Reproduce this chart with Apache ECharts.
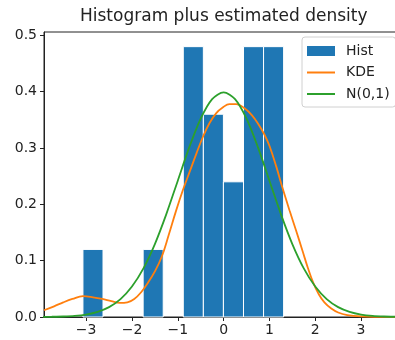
<!DOCTYPE html>
<html>
<head>
<meta charset="utf-8">
<script src="https://cdn.jsdelivr.net/npm/echarts@6/dist/echarts.min.js"></script>
<style>
html,body{margin:0;padding:0;overflow:hidden;background:#fff;}
#chart{width:400px;height:340px;}
</style>
</head>
<body>
<div id="chart"></div>
<script>
// ---- data ----
const titleText = 'Histogram plus estimated density';
const binEdges = [-3.07, -2.632, -2.194, -1.756, -1.318, -0.88, -0.442, -0.004, 0.434, 0.872, 1.31];
const histDensity = [0.12, 0, 0, 0.12, 0, 0.48, 0.36, 0.24, 0.48, 0.48];
const kdeX = [-3.92, -3.7, -3.5, -3.3, -3.07, -2.85, -2.65, -2.45, -2.27, -2.1, -1.95, -1.8, -1.65, -1.5, -1.35, -1.2, -1.04, -0.89, -0.74, -0.59, -0.45, -0.31, -0.16, -0.02, 0.13, 0.28, 0.45, 0.62, 0.77, 0.89, 1.0, 1.15, 1.29, 1.44, 1.58, 1.72, 1.84, 1.96, 2.08, 2.2, 2.35, 2.5, 2.7, 3.0, 3.4, 3.85];
const kdeY = [0.012, 0.019, 0.026, 0.032, 0.037, 0.035, 0.032, 0.028, 0.025, 0.026, 0.032, 0.044, 0.061, 0.081, 0.107, 0.145, 0.188, 0.225, 0.258, 0.291, 0.320, 0.344, 0.362, 0.372, 0.378, 0.378, 0.371, 0.358, 0.341, 0.324, 0.304, 0.267, 0.228, 0.189, 0.154, 0.118, 0.087, 0.060, 0.040, 0.026, 0.015, 0.008, 0.0035, 0.001, 0.0002, 0.0];
const normX = [-4, -3.75, -3.5, -3.25, -3, -2.75, -2.5, -2.25, -2, -1.75, -1.5, -1.25, -1, -0.75, -0.5, -0.25, 0, 0.25, 0.5, 0.75, 1, 1.25, 1.5, 1.75, 2, 2.25, 2.5, 2.75, 3, 3.25, 3.5, 3.75, 4];
const normY = [0.0001, 0.0004, 0.0009, 0.0020, 0.0044, 0.0091, 0.0175, 0.0317, 0.0540, 0.0863, 0.1295, 0.1827, 0.2420, 0.3011, 0.3521, 0.3867, 0.3989, 0.3867, 0.3521, 0.3011, 0.2420, 0.1827, 0.1295, 0.0863, 0.0540, 0.0317, 0.0175, 0.0091, 0.0044, 0.0020, 0.0009, 0.0004, 0.0001];
const xTicks = [-3, -2, -1, 0, 1, 2, 3];
const yTicks = [0.0, 0.1, 0.2, 0.3, 0.4, 0.5];
const seriesNames = ['Hist', 'KDE', 'N(0,1)'];

// ---- build ----
const histData = [];
for (let i = 0; i < histDensity.length; i++) {
  if (histDensity[i] > 0) histData.push([binEdges[i], binEdges[i + 1], histDensity[i]]);
}
const kdeData = kdeX.map((x, i) => [x, kdeY[i]]);
const normData = normX.map((x, i) => [x, normY[i]]);

const FONT = 'DejaVu Sans';
const axisColor = '#222';
const lineIcon = 'path://M0,0 L28,0 L28,2 L0,2 Z';
const chart = echarts.init(document.getElementById('chart'), null, {renderer: 'canvas'});
chart.setOption({
  animation: false,
  backgroundColor: '#fff',
  textStyle: {fontFamily: FONT},
  title: {
    text: titleText,
    left: 80, top: 8, padding: 0,
    textStyle: {fontFamily: FONT, fontSize: 17, fontWeight: 'normal', color: '#222'}
  },
  grid: {left: 44, top: 32, right: 0, bottom: 23, show: true, borderColor: axisColor, borderWidth: 1, backgroundColor: 'transparent'},
  legend: {
    orient: 'vertical', left: 302, top: 37,
    padding: [6, 6, 5, 5],
    itemWidth: 28, itemHeight: 10, itemGap: 5.5,
    symbolKeepAspect: true,
    borderColor: '#d0d0d0', borderWidth: 1, borderRadius: 3,
    backgroundColor: 'rgba(255,255,255,0.8)',
    textStyle: {fontFamily: FONT, fontSize: 14, color: '#222', lineHeight: 16, padding: [0, 0, 0, 6]},
    data: [
      {name: 'Hist', icon: 'rect'},
      {name: 'KDE', icon: lineIcon},
      {name: 'N(0,1)', icon: lineIcon}
    ]
  },
  xAxis: {
    type: 'value', min: -3.92, max: 3.85,
    axisLine: {show: true, onZero: false, lineStyle: {color: axisColor, width: 1}},
    axisTick: {show: true, length: 4, lineStyle: {color: axisColor}, customValues: xTicks},
    axisLabel: {
      customValues: xTicks, margin: 6, fontFamily: FONT, fontSize: 14, color: '#222',
      formatter: v => (v < 0 ? '\u2212' + Math.abs(v) : String(v))
    },
    splitLine: {show: false}
  },
  yAxis: {
    type: 'value', min: 0, max: 0.506,
    axisLine: {show: true, onZero: false, lineStyle: {color: axisColor, width: 1}},
    axisTick: {show: true, length: 4, lineStyle: {color: axisColor}, customValues: yTicks},
    axisLabel: {
      customValues: yTicks, margin: 7, fontFamily: FONT, fontSize: 14, color: '#222',
      formatter: v => v.toFixed(1)
    },
    splitLine: {show: false}
  },
  series: [
    {
      name: seriesNames[0], type: 'custom', z: 1,
      itemStyle: {color: '#1f77b4'},
      renderItem: function (params, api) {
        const p0 = api.coord([api.value(0), api.value(2)]);
        const p1 = api.coord([api.value(1), 0]);
        return {
          type: 'rect',
          shape: {x: p0[0], y: p0[1], width: p1[0] - p0[0], height: p1[1] - p0[1]},
          style: {fill: '#1f77b4', stroke: '#ffffff', lineWidth: 1}
        };
      },
      encode: {x: [0, 1], y: 2},
      data: histData
    },
    {
      name: seriesNames[1], type: 'line', z: 3, smooth: 0.4,
      symbol: 'none', showSymbol: false,
      lineStyle: {color: '#ff7f0e', width: 1.8}, itemStyle: {color: '#ff7f0e'},
      data: kdeData
    },
    {
      name: seriesNames[2], type: 'line', z: 4, smooth: 0.3,
      symbol: 'none', showSymbol: false,
      lineStyle: {color: '#2ca02c', width: 1.8}, itemStyle: {color: '#2ca02c'},
      data: normData
    }
  ]
});
</script>
</body>
</html>
